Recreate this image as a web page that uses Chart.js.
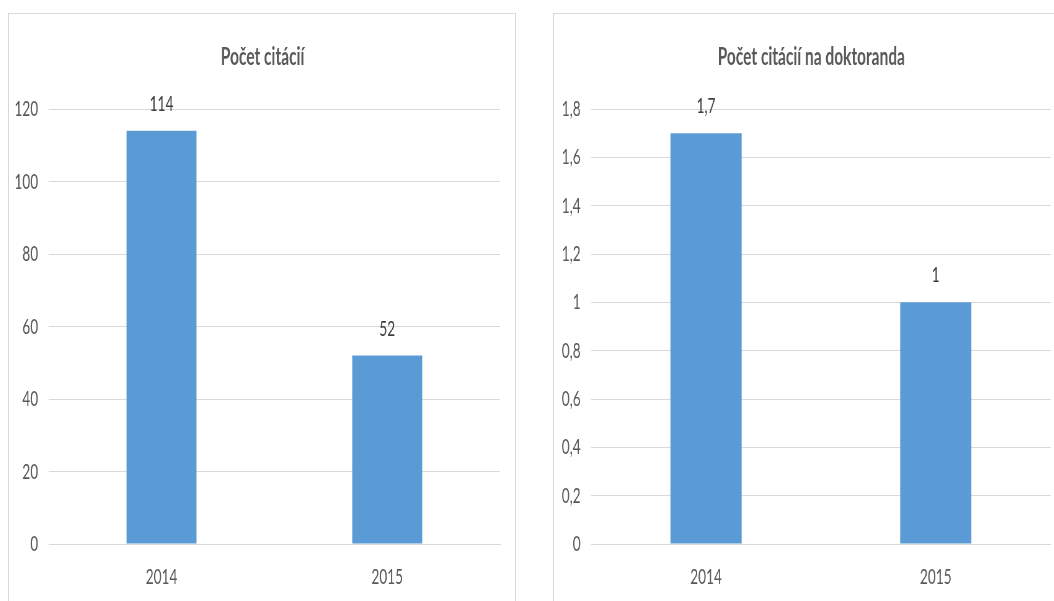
<!DOCTYPE html>
<html>
<head>
<meta charset="utf-8">
<title>Počet citácií</title>
<script src="https://cdn.jsdelivr.net/npm/chart.js@4.4.1/dist/chart.umd.min.js"></script>
<style>
    html, body {
        margin: 0;
        padding: 0;
        width: 1054px;
        height: 601px;
        overflow: hidden;
        background: #fff;
    }
    .panel {
        position: absolute;
        top: 13px;
        height: 600px;
        border: 1px solid #d9d9d9;
        box-sizing: border-box;
        overflow: hidden;
    }
    #panelCitacie { left: 8px; width: 508px; }
    #panelDoktorand { left: 553px; width: 516px; }
    /* grafy sú kreslené širšie a potom zúžené do stĺpca */
    .zuzenie {
        position: absolute;
        left: 0;
        top: 0;
        transform-origin: 0 0;
        transform: scaleX(0.62);
    }
    canvas { display: block; }
</style>
</head>
<body>
<div class="panel" id="panelCitacie">
    <div class="zuzenie"><canvas id="grafCitacie" width="818" height="588"></canvas></div>
</div>
<div class="panel" id="panelDoktorand">
    <div class="zuzenie"><canvas id="grafDoktorand" width="830" height="588"></canvas></div>
</div>

<script>
// Dáta
const roky = ['2014', '2015'];
const pocetCitacii = [114, 52];
const citacieNaDoktoranda = [1.7, 1];
const osCitacie = [0, 20, 40, 60, 80, 100, 120];
const osDoktorand = [0, 0.2, 0.4, 0.6, 0.8, 1, 1.2, 1.4, 1.6, 1.8];

const PISMO = "Lato, 'Open Sans', sans-serif";
const SEDA = '#595959';

// Desatinná čiarka namiesto bodky
function formatCislo(v) {
    return Number(v.toFixed(1)).toString().replace('.', ',');
}

// Popisky hodnôt nad stĺpcami
const popiskyHodnot = {
    id: 'popiskyHodnot',
    afterDatasetsDraw(chart) {
        const ctx = chart.ctx;
        ctx.save();
        ctx.font = '22px ' + PISMO;
        ctx.fillStyle = '#404040';
        ctx.textAlign = 'center';
        ctx.textBaseline = 'alphabetic';
        chart.getDatasetMeta(0).data.forEach((bar, i) => {
            const v = chart.data.datasets[0].data[i];
            ctx.fillText(formatCislo(v), bar.x, bar.y - 20);
        });
        ctx.restore();
    }
};

// Spoločné nastavenie oboch stĺpcových grafov
function nakresliGraf(id, nazov, hodnoty, osY, sirkaOsY, pravyOkraj) {
    const ctx = document.getElementById(id).getContext('2d');
    new Chart(ctx, {
        type: 'bar',
        data: {
            labels: roky,
            datasets: [{
                label: nazov,
                data: hodnoty,
                backgroundColor: '#5b9bd5',
                borderWidth: 0,
                barPercentage: 0.31,
                categoryPercentage: 1
            }]
        },
        options: {
            responsive: false,
            animation: false,
            devicePixelRatio: 1,
            layout: { padding: 0 },
            plugins: {
                legend: { display: false },
                tooltip: { enabled: false },
                title: {
                    display: true,
                    text: nazov,
                    color: SEDA,
                    font: { family: PISMO, size: 25, weight: 'bold' },
                    padding: { top: 28, bottom: 37 }
                }
            },
            scales: {
                x: {
                    grid: { display: false },
                    border: { color: '#d9d9d9', width: 1 },
                    ticks: {
                        color: SEDA,
                        font: { family: PISMO, size: 22 },
                        padding: 12
                    },
                    afterFit(s) { s.height = 58; }
                },
                y: {
                    min: osY[0],
                    max: osY[osY.length - 1],
                    border: { display: false },
                    grid: { color: '#d9d9d9', lineWidth: 1, drawTicks: false },
                    ticks: {
                        color: SEDA,
                        font: { family: PISMO, size: 22 },
                        padding: 17,
                        callback: v => formatCislo(v)
                    },
                    afterBuildTicks(s) { s.ticks = osY.map(v => ({ value: v })); },
                    afterFit(s) { s.width = sirkaOsY; }
                },
                // prázdny pravý okraj, titulok zostane v strede panelu
                okraj: {
                    type: 'linear',
                    position: 'right',
                    display: true,
                    grid: { display: false },
                    border: { display: false },
                    ticks: { display: false },
                    afterFit(s) { s.width = pravyOkraj; }
                }
            }
        },
        plugins: [popiskyHodnot]
    });
}

nakresliGraf('grafCitacie', 'Počet citácií', pocetCitacii, osCitacie, 64, 26);
nakresliGraf('grafDoktorand', 'Počet citácií na doktoranda', citacieNaDoktoranda, osDoktorand, 60, 29);
</script>
</body>
</html>
